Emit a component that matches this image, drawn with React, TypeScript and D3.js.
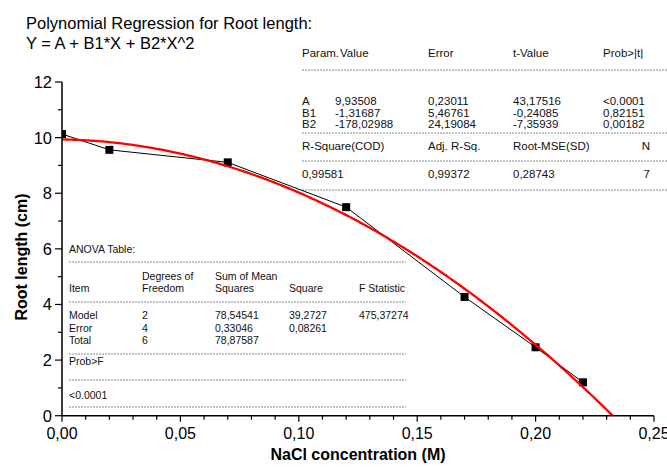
import React, { useEffect, useRef } from 'react';
import * as d3 from 'd3';

// measured data (NaCl concentration vs root length)
const concentration = [0, 0.02, 0.07, 0.12, 0.17, 0.2, 0.22];
const rootLength = [10.13, 9.56, 9.11, 7.5, 4.27, 2.46, 1.2];

// fit parameters Y = A + B1*X + B2*X^2
const coefficients = [9.93508, -1.31687, -178.02988];
const paramNames = ['A', 'B1', 'B2'];
const paramValues = ['9,93508', '-1,31687', '-178,02988'];
const paramErrors = ['0,23011', '5,46761', '24,19084'];
const paramTValues = ['43,17516', '-0,24085', '-7,35939'];
const paramProbs = ['<0.0001', '0,82151', '0,00182'];
const fitStats = ['0,99581', '0,99372', '0,28743', '7'];

// ANOVA rows
const anovaItems = ['Model', 'Error', 'Total'];
const anovaDf = ['2', '4', '6'];
const anovaSS = ['78,54541', '0,33046', '78,87587'];
const anovaMS = ['39,2727', '0,08261', ''];
const anovaF = ['475,37274', '', ''];

const xTicks = [0, 0.05, 0.1, 0.15, 0.2, 0.25];
const yTicks = [0, 2, 4, 6, 8, 10, 12];

const FONT = "'Liberation Sans', Arial, Helvetica, sans-serif";

const App = () => {
    const svgRef = useRef<SVGSVGElement>(null);

    useEffect(() => {
        document.body.style.margin = '0';
        const svg = d3.select(svgRef.current);
        svg.selectAll('*').remove();

        const x = d3.scaleLinear().domain([0, 0.25]).range([62, 654]);
        const y = d3.scaleLinear().domain([0, 12]).range([415.7, 82]);

        // clip to plot area
        svg.append('clipPath').attr('id', 'plotClip')
            .append('rect')
            .attr('x', x(0)).attr('y', y(12) - 10)
            .attr('width', x(0.25) - x(0)).attr('height', y(0) - y(12) + 10);

        const g = svg.append('g').attr('font-family', FONT);

        // title
        g.append('text').attr('x', 26).attr('y', 29).attr('font-size', 16.5)
            .text('Polynomial Regression for Root length:');
        g.append('text').attr('x', 26).attr('y', 49).attr('font-size', 16.5)
            .text('Y = A + B1*X + B2*X^2');

        // dashed separator helper
        const dash = (x1: number, x2: number, yy: number) => {
            g.append('line').attr('x1', x1).attr('x2', x2).attr('y1', yy).attr('y2', yy)
                .attr('stroke', '#666').attr('stroke-width', 0.8).attr('stroke-dasharray', '2,1');
        };
        const label = (tx: string, xx: number, yy: number, size: number, anchor = 'start') => {
            g.append('text').attr('x', xx).attr('y', yy).attr('font-size', size)
                .attr('text-anchor', anchor).attr('fill', '#111').text(tx);
        };

        // parameter table
        const pCols = [302, 335, 428, 513, 603];
        const ps = 11.5;
        label('Param.', 302, 57, ps);
        label('Value', 340, 57, ps);
        label('Error', 428, 57, ps);
        label('t-Value', 513, 57, ps);
        label('Prob>|t|', 603, 57, ps);
        dash(302, 667, 70);
        paramNames.forEach((n, i) => {
            const yy = 105 + i * 11.5;
            label(n, pCols[0], yy, ps);
            label(paramValues[i], pCols[1], yy, ps);
            label(paramErrors[i], pCols[2], yy, ps);
            label(paramTValues[i], pCols[3], yy, ps);
            label(paramProbs[i], pCols[4], yy, ps);
        });
        dash(302, 667, 133);
        label('R-Square(COD)', 302, 150, ps);
        label('Adj. R-Sq.', 428, 150, ps);
        label('Root-MSE(SD)', 513, 150, ps);
        label('N', 650, 150, ps, 'end');
        dash(302, 667, 161);
        label(fitStats[0], 302, 178, ps);
        label(fitStats[1], 428, 178, ps);
        label(fitStats[2], 513, 178, ps);
        label(fitStats[3], 650, 178, ps, 'end');
        dash(302, 667, 190);

        // ANOVA table
        const aCols = [69, 142, 215, 289, 359];
        const fs = 10.5;
        label('ANOVA Table:', 69, 253, fs);
        dash(69, 406, 262);
        label('Degrees of', aCols[1], 280, fs);
        label('Sum of Mean', aCols[2], 280, fs);
        label('Item', aCols[0], 292, fs);
        label('Freedom', aCols[1], 292, fs);
        label('Squares', aCols[2], 292, fs);
        label('Square', aCols[3], 292, fs);
        label('F Statistic', aCols[4], 292, fs);
        dash(69, 406, 302);
        anovaItems.forEach((it, i) => {
            const yy = 319 + i * 12.5;
            label(it, aCols[0], yy, fs);
            label(anovaDf[i], aCols[1], yy, fs);
            label(anovaSS[i], aCols[2], yy, fs);
            label(anovaMS[i], aCols[3], yy, fs);
            label(anovaF[i], aCols[4], yy, fs);
        });
        dash(69, 406, 354);
        label('Prob>F', 69, 365, fs);
        dash(69, 406, 380);
        label('<0.0001', 69, 399, fs);
        dash(69, 406, 407);

        const data = concentration.map((c, i) => ({ x: c, y: rootLength[i] }));
        const plot = g.append('g').attr('clip-path', 'url(#plotClip)');

        // connecting line
        plot.append('path')
            .datum(data)
            .attr('fill', 'none')
            .attr('stroke', '#000')
            .attr('stroke-width', 1)
            .attr('d', d3.line<{ x: number; y: number }>().x((d) => x(d.x)).y((d) => y(d.y)));

        // squares
        plot.selectAll('rect.pt')
            .data(data)
            .enter()
            .append('rect')
            .attr('class', 'pt')
            .attr('x', (d) => x(d.x) - 4)
            .attr('y', (d) => y(d.y) - 4)
            .attr('width', 8)
            .attr('height', 8)
            .attr('fill', '#000');

        // fitted curve
        const [a, b1, b2] = coefficients;
        const fx = d3.range(0, 0.25, 0.001);
        plot.append('path')
            .datum(fx)
            .attr('fill', 'none')
            .attr('stroke', '#f00')
            .attr('stroke-width', 2.3)
            .attr('d', d3.line<number>().x((d) => x(d)).y((d) => y(a + b1 * d + b2 * d * d)));

        // x axis
        const xAxis = g.append('g');
        xAxis.append('line').attr('x1', x(0)).attr('x2', x(0.25)).attr('y1', y(0)).attr('y2', y(0))
            .attr('stroke', '#000').attr('stroke-width', 1.5);
        d3.range(0, 26).forEach((k) => {
            const v = k / 100;
            const major = k % 5 === 0;
            xAxis.append('line').attr('x1', x(v)).attr('x2', x(v))
                .attr('y1', y(0)).attr('y2', y(0) + (major ? 6 : 4))
                .attr('stroke', '#000').attr('stroke-width', 1.2);
        });
        xTicks.forEach((v) => {
            xAxis.append('text').attr('x', x(v)).attr('y', 439).attr('font-size', 16)
                .attr('text-anchor', 'middle').text(v.toFixed(2).replace('.', ','));
        });

        // y axis
        const yAxis = g.append('g');
        yAxis.append('line').attr('x1', x(0)).attr('x2', x(0)).attr('y1', y(0)).attr('y2', y(12))
            .attr('stroke', '#000').attr('stroke-width', 1.5);
        d3.range(0, 13).forEach((v) => {
            const major = v % 2 === 0;
            yAxis.append('line').attr('x1', x(0)).attr('x2', x(0) - (major ? 7 : 4))
                .attr('y1', y(v)).attr('y2', y(v))
                .attr('stroke', '#000').attr('stroke-width', 1.2);
        });
        yTicks.forEach((v) => {
            yAxis.append('text').attr('x', 52).attr('y', y(v)).attr('dy', '0.36em')
                .attr('font-size', 16.5).attr('text-anchor', 'end').text(String(v));
        });

        // axis titles
        g.append('text').attr('x', (x(0) + x(0.25)) / 2).attr('y', 460)
            .attr('font-size', 16).attr('font-weight', 'bold').attr('text-anchor', 'middle')
            .text('NaCl concentration (M)');
        g.append('text').attr('transform', 'translate(27,257) rotate(-90)')
            .attr('font-size', 16).attr('font-weight', 'bold').attr('text-anchor', 'middle')
            .text('Root length (cm)');
    }, []);

    return <svg ref={svgRef} width={667} height={467} style={{ display: 'block', background: '#fff' }}></svg>;
};

export default App;
